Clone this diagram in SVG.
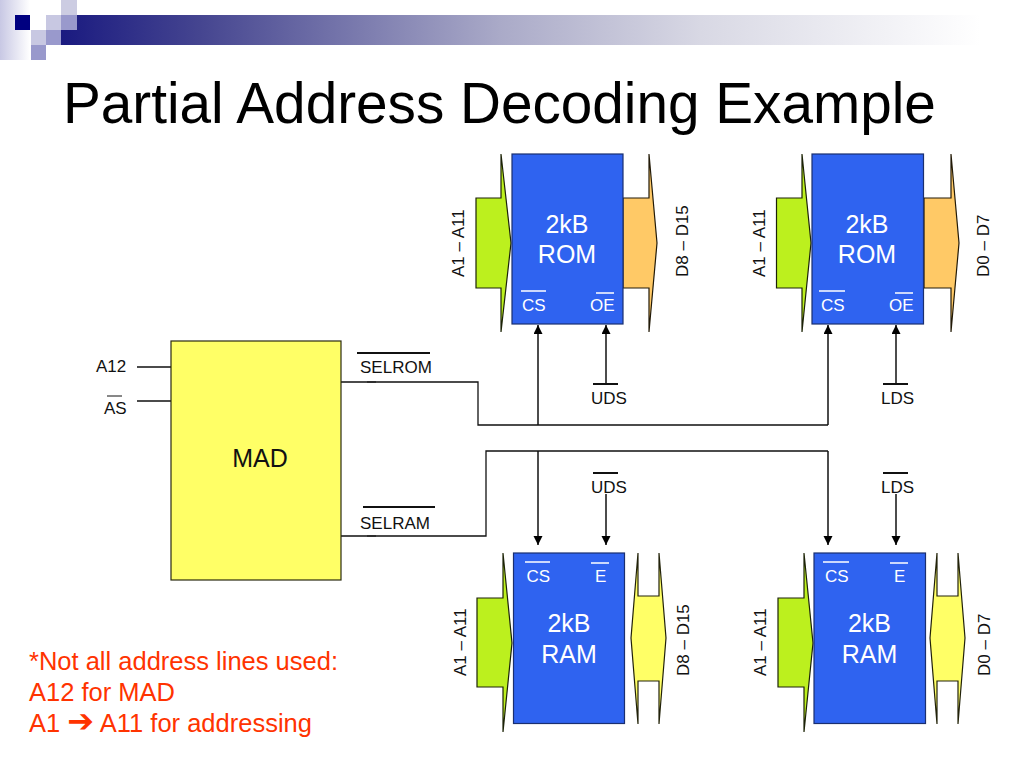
<svg xmlns="http://www.w3.org/2000/svg" width="1024" height="768" viewBox="0 0 1024 768">
<style>
text{font-family:"Liberation Sans",Arial,sans-serif;fill:#111}
.t16{font-size:17px}
.w16{font-size:17px;fill:#fff}
.w24{font-size:25px;fill:#fff;text-anchor:middle}
.red{font-size:25.500px;fill:#ff3300}
.blk{fill:#2f63f0;stroke:#1a2f70;stroke-width:1.2}
.grn{fill:#bcf01e;stroke:#1c2208;stroke-width:1.2}
.org{fill:#ffc966;stroke:#221a08;stroke-width:1.2}
.yel{fill:#ffff66;stroke:#22220a;stroke-width:1.2}
.wire{fill:none;stroke:#111;stroke-width:1.3}
.arr{fill:none;stroke:#111;stroke-width:1.5;marker-end:url(#ah)}
.bar{stroke:#111;stroke-width:2}
.wbar{stroke:#fff;stroke-width:1.6}
</style>
<defs>
<marker id="ah" markerUnits="userSpaceOnUse" markerWidth="10" markerHeight="10" refX="9" refY="4.500" orient="auto"><path d="M0 0L9 4.500L0 9Z" fill="#000"/></marker>
<linearGradient id="hb" gradientUnits="userSpaceOnUse" x1="61" y1="0" x2="1024" y2="0"><stop offset="0" stop-color="#1a1a80"/><stop offset=".144" stop-color="#454590"/><stop offset=".456" stop-color="#aaaac8"/><stop offset=".664" stop-color="#d8d8e4"/><stop offset=".955" stop-color="#ffffff"/></linearGradient>
<linearGradient id="lb"><stop offset="0" stop-color="#c8c8e4"/><stop offset="1" stop-color="#ffffff"/></linearGradient>
</defs>

<g id="header">
<rect x="0" y="0" width="30" height="60" fill="url(#lb)"/>
<rect x="61" y="15" width="963" height="30" fill="url(#hb)"/>
<rect x="15" y="15" width="15" height="15" fill="#000080"/>
<rect x="46" y="15" width="15" height="15" fill="#c8c8e2"/>
<rect x="61" y="15" width="16" height="15" fill="#9999cc"/>
<rect x="61" y="0" width="16" height="15" fill="#ccccE2"/>
<rect x="31" y="30" width="15" height="15" fill="#c8c8e2"/>
<rect x="46" y="30" width="15" height="15" fill="#9999cc"/>
<rect x="31" y="45" width="15" height="15" fill="#9999cc"/>
</g>
<text id="title" x="63" y="123" style="font-size:56.700px;fill:#000">Partial Address Decoding Example</text>

<g id="connectors">
<path class="wire" d="M137 367H171M137 401H171"/>
<path class="wire" d="M341 382H478V425H828"/>
<path class="wire" d="M341 536H486V451H828"/>
<path class="bar" d="M367 382H376M367 536H376" style="stroke-width:1"/>
<path class="arr" d="M538 425V325"/>
<path class="arr" d="M828 425V325"/>
<path class="arr" d="M606 384V325"/>
<path class="arr" d="M896 384V325"/>
<path class="arr" d="M538 451V545"/>
<path class="arr" d="M828 451V545"/>
<path class="arr" d="M606 494V545"/>
<path class="arr" d="M896 494V545"/>
<path class="bar" d="M593 384H618M883 384H908M593 473H618M883 473H908M357 353H430M363 507H435"/>
<path class="bar" d="M107 396H122" style="stroke-width:1"/>
</g>

<g id="mad">
<rect x="171" y="341" width="170" height="239" fill="#ffff66" stroke="#2a2a10" stroke-width="1.2"/>
<text x="260" y="467" text-anchor="middle" style="font-size:25px">MAD</text>
</g>
<g id="labels">
<text class="t16" x="96" y="372">A12</text>
<text class="t16" x="104" y="414">AS</text>
<text class="t16" x="360" y="373">SELROM</text>
<text class="t16" x="360" y="529">SELRAM</text>
<text class="t16" x="591" y="404">UDS</text>
<text class="t16" x="881" y="404">LDS</text>
<text class="t16" x="591" y="493">UDS</text>
<text class="t16" x="881" y="493">LDS</text>
</g>

<g id="rom1">
<path class="grn" d="M476 198H501V154L511 243L501 332V288H476Z"/>
<path class="org" d="M623 198H649V154L657 243L649 332V288H623Z"/>
<rect class="blk" x="512" y="154" width="111" height="170"/>
<text class="w24" x="567" y="233">2kB</text>
<text class="w24" x="567" y="263">ROM</text>
<text class="w16" x="522" y="311">CS</text>
<text class="w16" x="590" y="311">OE</text>
<path class="wbar" d="M521 291H546M596 293H614"/>
<text class="t16" transform="translate(464 277) rotate(-90)">A1 – A11</text>
<text class="t16" transform="translate(688 277) rotate(-90)">D8 – D15</text>
</g>
<g id="rom2">
<path class="grn" d="M776.500 198H802V154L811 243L802 332V288H776.500Z"/>
<path class="org" d="M924 198H951V154L959 243L951 332V288H924Z"/>
<rect class="blk" x="812" y="154" width="111.500" height="170"/>
<text class="w24" x="867" y="233">2kB</text>
<text class="w24" x="867" y="263">ROM</text>
<text class="w16" x="821" y="311">CS</text>
<text class="w16" x="889" y="311">OE</text>
<path class="wbar" d="M819 291H845M895 293H913"/>
<text class="t16" transform="translate(765 277) rotate(-90)">A1 – A11</text>
<text class="t16" transform="translate(989 277) rotate(-90)">D0 – D7</text>
</g>
<g id="ram1">
<path class="grn" d="M477 598H503V553L512 643L503 732V687H477Z"/>
<path class="yel" d="M631 638L638 553V596H659V553L666 638L659 724V681H638V724Z"/>
<rect class="blk" x="513.500" y="553" width="111" height="170.500"/>
<text class="w24" x="569" y="632">2kB</text>
<text class="w24" x="569" y="663">RAM</text>
<text class="w16" x="526.500" y="582">CS</text>
<text class="w16" x="595" y="582">E</text>
<path class="wbar" d="M525 562H550M591 563H609"/>
<text class="t16" transform="translate(466 676) rotate(-90)">A1 – A11</text>
<text class="t16" transform="translate(689 676) rotate(-90)">D8 – D15</text>
</g>
<g id="ram2">
<path class="grn" d="M778 598H804V553L813 643L804 732V687H778Z"/>
<path class="yel" d="M930 638L937 553V596H958V553L965 638L958 724V681H937V724Z"/>
<rect class="blk" x="814" y="553" width="111.500" height="170.500"/>
<text class="w24" x="869.500" y="632">2kB</text>
<text class="w24" x="869.500" y="663">RAM</text>
<text class="w16" x="825" y="582">CS</text>
<text class="w16" x="894" y="582">E</text>
<path class="wbar" d="M823 562H849M890 563H908"/>
<text class="t16" transform="translate(766 676) rotate(-90)">A1 – A11</text>
<text class="t16" transform="translate(990 676) rotate(-90)">D0 – D7</text>
</g>

<g id="note">
<text class="red" x="29" y="670">*Not all address lines used:</text>
<text class="red" x="29" y="701">A12 for MAD</text>
<text class="red" x="29" y="732">A1 <tspan style="font-family:'DejaVu Sans',sans-serif;font-size:32px;font-weight:bold;fill:#ff3300">➔</tspan> A11 for addressing</text>
</g>
</svg>
